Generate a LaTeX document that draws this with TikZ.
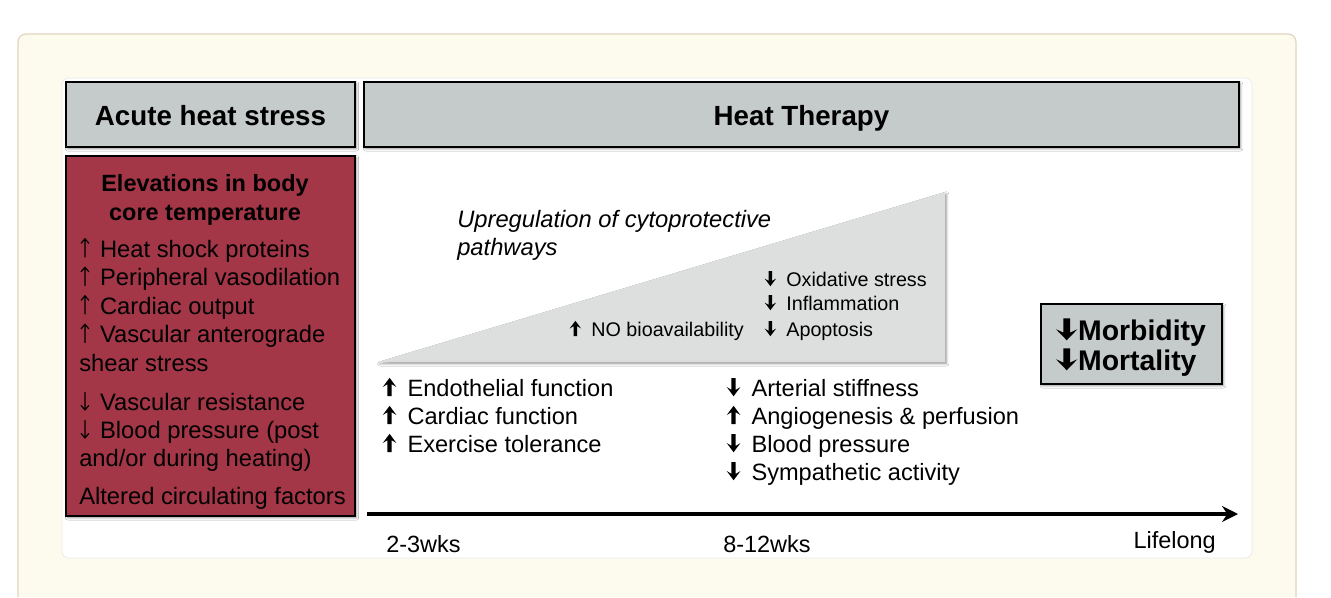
\documentclass[tikz,border=0pt]{standalone}
\usepackage{fontspec}
\setmainfont{Liberation Sans}
\usetikzlibrary{arrows.meta,shadows.blur}
\definecolor{panelcream}{RGB}{253,250,238}
\definecolor{panelline}{RGB}{226,212,192}
\definecolor{boxgrey}{RGB}{197,203,202}
\definecolor{heatred}{RGB}{163,54,71}
\definecolor{wedgegrey}{RGB}{220,223,222}
\newcommand{\px}{0.75pt}
% bold arrows
\newcommand{\uparr}[1][1]{\tikz[baseline=0pt,x=#1em,y=1em]{\useasboundingbox (0,0) rectangle (0.62,0.76);
  \fill (0.22,0) -- (0.22,0.50) -- (0.02,0.38) -- (0.31,0.77) -- (0.60,0.38) -- (0.40,0.50) -- (0.40,0) -- cycle;}}
\newcommand{\dnarr}[1][1]{\tikz[baseline=0pt,x=#1em,y=1em]{\useasboundingbox (0,0) rectangle (0.62,0.76);
  \fill (0.22,0.76) -- (0.22,0.26) -- (0.02,0.38) -- (0.31,-0.01) -- (0.60,0.38) -- (0.40,0.26) -- (0.40,0.76) -- cycle;}}
% thin arrows
\newcommand{\thinup}{\tikz[baseline=0pt,x=1em,y=1em]{\useasboundingbox (0,0) rectangle (0.6,0.78);
  \draw[line width=0.05em, line cap=round, line join=round] (0.24,0) -- (0.24,0.77) (0.08,0.58) -- (0.24,0.77) -- (0.40,0.58);}}
\newcommand{\thindn}{\tikz[baseline=0pt,x=1em,y=1em]{\useasboundingbox (0,0) rectangle (0.6,0.78);
  \draw[line width=0.05em, line cap=round, line join=round] (0.24,0.74) -- (0.24,0) (0.08,0.19) -- (0.24,0) -- (0.40,0.19);}}

\begin{document}
\begin{tikzpicture}[x=\px, y=-\px,
    shade/.style={blur shadow={shadow xshift=1.2pt, shadow yshift=-1.4pt, shadow blur radius=1.6pt, shadow opacity=40}},
    head/.style={draw, line width=1.6pt, fill=boxgrey, shade, inner sep=0pt, text height=17pt, text depth=0pt, font=\bfseries\fontsize{20.8pt}{24pt}\selectfont},
    redbox/.style={draw, line width=1.6pt, fill=heatred, shade, inner sep=0pt},
    outcome/.style={draw, line width=1.6pt, fill=boxgrey, shade, inner sep=0pt},
    redtitle/.style={anchor=base, inner sep=0pt, font=\bfseries\fontsize{17.6pt}{21pt}\selectfont},
    redline/.style={anchor=base west, inner sep=0pt, font=\fontsize{17.8pt}{21pt}\selectfont},
    effect/.style={anchor=base west, inner sep=0pt, font=\fontsize{17.7pt}{21pt}\selectfont},
    pathway/.style={anchor=base west, inner sep=0pt, font=\fontsize{14.8pt}{18pt}\selectfont},
    upreg/.style={anchor=base west, inner sep=0pt, font=\itshape\fontsize{17.8pt}{21pt}\selectfont},
    morb/.style={anchor=base west, inner sep=0pt, font=\bfseries\fontsize{21.3pt}{25pt}\selectfont},
    weeks/.style={inner sep=0pt, font=\fontsize{17.6pt}{21pt}\selectfont}]
    \useasboundingbox (0,0) rectangle (1331,597);
    \fill[white] (0,0) rectangle (1331,597);

    % Panels
    \filldraw[fill=panelcream, draw=panelline, line width=0.9pt, rounded corners=6pt]
        (18,597) -- (18,34) -- (1296,34) -- (1296,597);
    \filldraw[fill=white, draw=black!8, line width=0.6pt, rounded corners=5pt] (62,78) rectangle (1252,558);

    % Headers
    \node[head, minimum width=289*\px, minimum height=65*\px] (acute) at (210.5,114.5) {Acute heat stress};
    \node[head, minimum width=875*\px, minimum height=65*\px] (therapy) at (801.5,114.5) {Heat Therapy};

    % Acute column
    \node[redbox, minimum width=289*\px, minimum height=360*\px] (core) at (210.5,336) {};
    \node[redtitle] (elev1) at (205,191) {Elevations in body};
    \node[redtitle] (elev2) at (205,220) {core temperature};
    \node[redline] (hsp) at (79,257) {\thinup\ Heat shock proteins};
    \node[redline] (vaso) at (79,285.5) {\thinup\ Peripheral vasodilation};
    \node[redline] (cardout) at (79,314) {\thinup\ Cardiac output};
    \node[redline] (shear1) at (79,342.5) {\thinup\ Vascular anterograde};
    \node[redline] (shear2) at (79,371.5) {shear stress};
    \node[redline] (vres) at (79,410) {\thindn\ Vascular resistance};
    \node[redline] (bp1) at (79,438) {\thindn\ Blood pressure (post};
    \node[redline] (bp2) at (79,466) {and/or during heating)};
    \node[redline] (circ) at (79,504) {Altered circulating factors};

    % Wedge
    \fill[wedgegrey, shade] (378,362) -- (945,362) -- (945,192) -- cycle;
    \node[upreg] (upreg1) at (457,227) {Upregulation of cytoprotective};
    \node[upreg] (upreg2) at (457,255) {pathways};
    \node[pathway] (oxid) at (764,286) {\dnarr\hspace{.5em}Oxidative stress};
    \node[pathway] (infl) at (764,310) {\dnarr\hspace{.5em}Inflammation};
    \node[pathway] (apop) at (764,336) {\dnarr\hspace{.5em}Apoptosis};
    \node[pathway] (nobio) at (569,336) {\uparr\hspace{.5em}NO bioavailability};

    % Effects
    \node[effect] (endo) at (382,396) {\uparr\hspace{.45em}Endothelial function};
    \node[effect] (cardf) at (382,424) {\uparr\hspace{.45em}Cardiac function};
    \node[effect] (exer) at (382,452) {\uparr\hspace{.45em}Exercise tolerance};
    \node[effect] (stiff) at (726,396) {\dnarr\hspace{.45em}Arterial stiffness};
    \node[effect] (angio) at (726,424) {\uparr\hspace{.45em}Angiogenesis \& perfusion};
    \node[effect] (bpress) at (726,452) {\dnarr\hspace{.45em}Blood pressure};
    \node[effect] (symp) at (726,480) {\dnarr\hspace{.45em}Sympathetic activity};

    % Outcome
    \node[outcome, minimum width=181*\px, minimum height=80*\px] (outbox) at (1131.5,344) {};
    \node[morb] (morb1) at (1055,340) {\dnarr[1.3]Morbidity};
    \node[morb] (morb2) at (1055,370) {\dnarr[1.3]Mortality};

    % Timeline
    \coordinate (t0) at (367,514);
    \coordinate (t1) at (1238,514);
    \draw[line width=3pt, -{Stealth[length=12pt, width=12pt, inset=4pt]}] (t0) -- (t1);
    \node[weeks, anchor=base west] (wk2) at (386,552) {2-3wks};
    \node[weeks, anchor=base west] (wk8) at (723,552) {8-12wks};
    \node[weeks, anchor=base east] (life) at (1216,548) {Lifelong};
\end{tikzpicture}
\end{document}
